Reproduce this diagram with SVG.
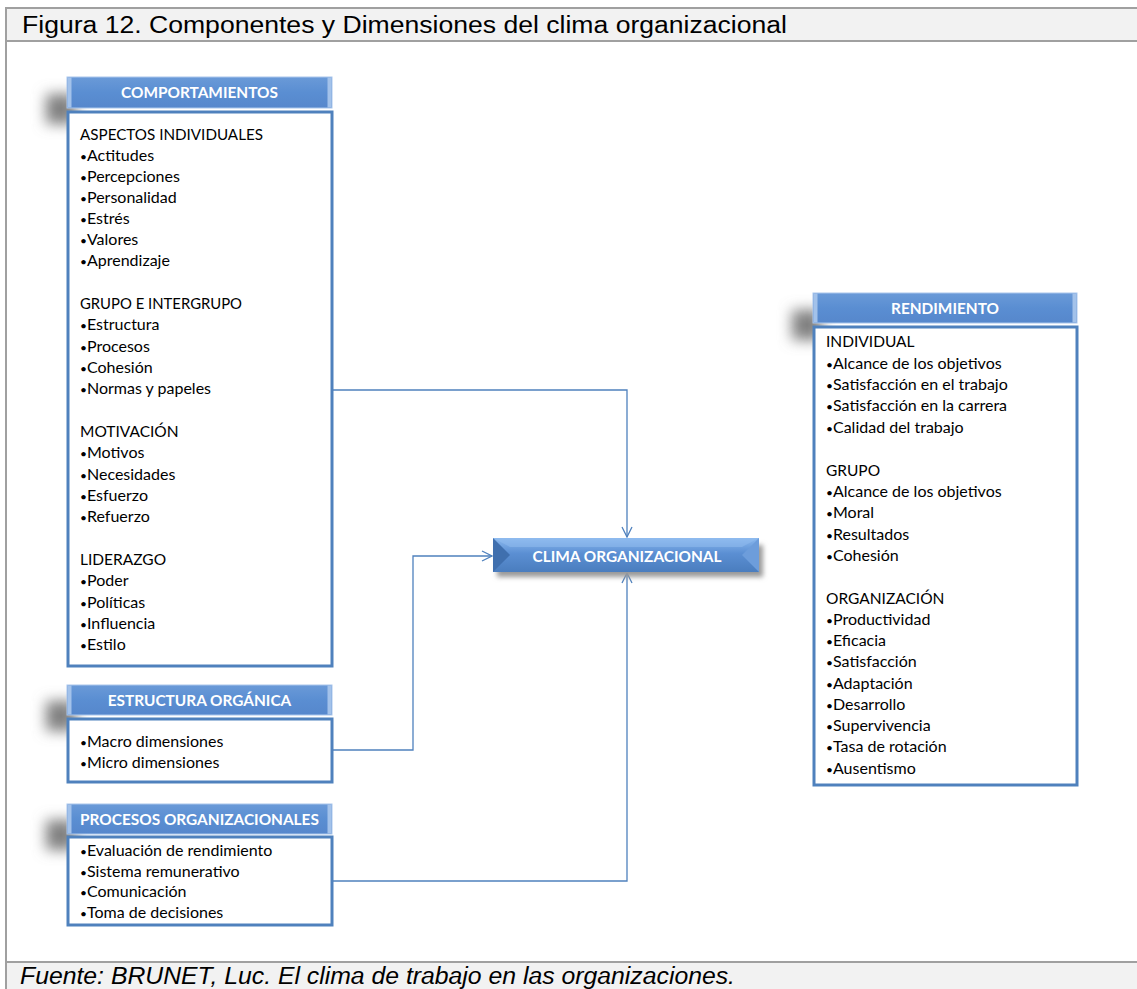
<svg xmlns="http://www.w3.org/2000/svg" width="1137" height="989" viewBox="0 0 1137 989">
  <style>
    .frame { fill: none; stroke: #a0a0a0; stroke-width: 2; }
    .bar { fill: #f2f2f2; }
    .title { font-family: "Liberation Sans", Arial, sans-serif; font-size: 23px; fill: #000; }
    .foot { font-family: "Liberation Sans", Arial, sans-serif; font-size: 23px; font-style: italic; fill: #000; }
    .hdr { fill: url(#hdrGrad); stroke: #a9c6ec; stroke-width: 1; }
    .edge { fill: #a3c2ea; }
    .hdrText { font-family: Lato, "Open Sans", sans-serif; font-weight: bold; font-size: 15.4px; fill: #fff; text-anchor: middle; }
    .body { fill: #fff; stroke: #4f81bd; stroke-width: 3; }
    .item { font-family: Lato, "Open Sans", sans-serif; font-size: 16px; fill: #000; }
    .cap { font-size: 15.5px; }
    .b { font-size: 12px; }
    .conn { fill: none; stroke: #4f81bd; stroke-width: 1.3; }
    .shadow { fill: #808080; filter: url(#blur); }
  </style>
  <defs>
    <linearGradient id="hdrGrad" x1="0" y1="0" x2="0" y2="1">
      <stop offset="0" stop-color="#6a9ad8"/>
      <stop offset="0.5" stop-color="#5a8ed2"/>
      <stop offset="1" stop-color="#5687cc"/>
    </linearGradient>
    <linearGradient id="climaGrad" x1="0" y1="0" x2="0" y2="1">
      <stop offset="0" stop-color="#8ab8ee"/>
      <stop offset="0.45" stop-color="#5b8fd3"/>
      <stop offset="1" stop-color="#4a7dbe"/>
    </linearGradient>
    <filter id="blur" x="-80%" y="-80%" width="260%" height="260%">
      <feGaussianBlur stdDeviation="7"/>
    </filter>
    <filter id="soft" x="-10%" y="-30%" width="120%" height="160%">
      <feGaussianBlur stdDeviation="2.5"/>
    </filter>
    <marker id="arrow" viewBox="0 0 12 12" refX="11" refY="6" markerWidth="12" markerHeight="12" markerUnits="userSpaceOnUse" orient="auto">
      <path d="M1,1 L11,6 L1,11" fill="none" stroke="#4f81bd" stroke-width="1.3"/>
    </marker>
  </defs>

  <!-- page frame with caption bars -->
  <rect class="bar" x="6" y="8" width="1140" height="33"/>
  <rect class="bar" x="6" y="962" width="1140" height="30"/>
  <path class="frame" d="M1145,8 H6 V992"/>
  <path class="frame" d="M6,41 H1145 M6,962 H1145"/>
  <text class="title" x="22" y="33" textLength="765" lengthAdjust="spacingAndGlyphs">Figura 12. Componentes y Dimensiones del clima organizacional</text>
  <text class="foot" x="20" y="984" textLength="715" lengthAdjust="spacingAndGlyphs">Fuente: BRUNET, Luc. El clima de trabajo en las organizaciones.</text>

  <!-- connectors -->
  <g id="connectors">
    <path class="conn" d="M333,390 H627 V537" marker-end="url(#arrow)"/>
    <path class="conn" d="M333,750 H413 V556 H492" marker-end="url(#arrow)"/>
    <path class="conn" d="M333,881 H627 V573" marker-end="url(#arrow)"/>
  </g>

  <!-- behaviours -->
  <g id="comportamientos">
    <rect class="shadow" x="46" y="94" width="30" height="30"/>
    <rect class="body" x="68" y="112" width="264" height="554"/>
    <rect class="hdr" x="67" y="77" width="265" height="31"/>
    <rect class="edge" x="67.5" y="77.5" width="4" height="30"/>
    <rect class="edge" x="327.5" y="77.5" width="4" height="30"/>
    <text class="hdrText" x="199.5" y="98">COMPORTAMIENTOS</text>
    <g class="item">
      <text class="cap" x="80" y="140" textLength="183" lengthAdjust="spacingAndGlyphs">ASPECTOS INDIVIDUALES</text>
      <text x="80" y="161"><tspan class="b">•</tspan>Actitudes</text>
      <text x="80" y="182"><tspan class="b">•</tspan>Percepciones</text>
      <text x="80" y="203"><tspan class="b">•</tspan>Personalidad</text>
      <text x="80" y="224"><tspan class="b">•</tspan>Estrés</text>
      <text x="80" y="245"><tspan class="b">•</tspan>Valores</text>
      <text x="80" y="266"><tspan class="b">•</tspan>Aprendizaje</text>
      <text class="cap" x="80" y="309" textLength="162" lengthAdjust="spacingAndGlyphs">GRUPO E INTERGRUPO</text>
      <text x="80" y="330"><tspan class="b">•</tspan>Estructura</text>
      <text x="80" y="352"><tspan class="b">•</tspan>Procesos</text>
      <text x="80" y="373"><tspan class="b">•</tspan>Cohesión</text>
      <text x="80" y="394"><tspan class="b">•</tspan>Normas y papeles</text>
      <text class="cap" x="80" y="437">MOTIVACIÓN</text>
      <text x="80" y="458"><tspan class="b">•</tspan>Motivos</text>
      <text x="80" y="480"><tspan class="b">•</tspan>Necesidades</text>
      <text x="80" y="501"><tspan class="b">•</tspan>Esfuerzo</text>
      <text x="80" y="522"><tspan class="b">•</tspan>Refuerzo</text>
      <text class="cap" x="80" y="565">LIDERAZGO</text>
      <text x="80" y="586"><tspan class="b">•</tspan>Poder</text>
      <text x="80" y="608"><tspan class="b">•</tspan>Políticas</text>
      <text x="80" y="629"><tspan class="b">•</tspan>Influencia</text>
      <text x="80" y="650"><tspan class="b">•</tspan>Estilo</text>
    </g>
  </g>

  <!-- organic structure -->
  <g id="estructura">
    <rect class="shadow" x="46" y="701" width="30" height="30"/>
    <rect class="body" x="68" y="719" width="264" height="63"/>
    <rect class="hdr" x="67" y="685" width="265" height="30"/>
    <rect class="edge" x="67.5" y="685.5" width="4" height="29"/>
    <rect class="edge" x="327.5" y="685.5" width="4" height="29"/>
    <text class="hdrText" x="199.5" y="705.5">ESTRUCTURA ORGÁNICA</text>
    <g class="item">
      <text x="80" y="747"><tspan class="b">•</tspan>Macro dimensiones</text>
      <text x="80" y="768"><tspan class="b">•</tspan>Micro dimensiones</text>
    </g>
  </g>

  <!-- organisational processes -->
  <g id="procesos">
    <rect class="shadow" x="46" y="820" width="30" height="30"/>
    <rect class="body" x="68" y="837" width="264" height="88"/>
    <rect class="hdr" x="67" y="804" width="265" height="30"/>
    <rect class="edge" x="67.5" y="804.5" width="4" height="29"/>
    <rect class="edge" x="327.5" y="804.5" width="4" height="29"/>
    <text class="hdrText" x="199.5" y="824.5">PROCESOS ORGANIZACIONALES</text>
    <g class="item">
      <text x="80" y="856"><tspan class="b">•</tspan>Evaluación de rendimiento</text>
      <text x="80" y="877"><tspan class="b">•</tspan>Sistema remunerativo</text>
      <text x="80" y="897"><tspan class="b">•</tspan>Comunicación</text>
      <text x="80" y="918"><tspan class="b">•</tspan>Toma de decisiones</text>
    </g>
  </g>

  <!-- organisational climate -->
  <g id="clima">
    <rect x="497" y="545" width="266" height="32" fill="#9a9a9a" filter="url(#soft)"/>
    <rect x="493" y="538" width="266" height="34" fill="url(#climaGrad)"/>
    <polygon points="493,538 510,555 493,572" fill="#3f6fae"/>
    <polygon points="759,538 742,555 759,572" fill="#6d9ddb"/>
    <polygon points="493,538 759,538 742,547 510,547" fill="#93bdf0" opacity="0.5"/>
    <text class="hdrText" x="627" y="562" font-size="16.5">CLIMA ORGANIZACIONAL</text>
  </g>

  <!-- performance -->
  <g id="rendimiento">
    <rect class="shadow" x="792" y="310" width="30" height="30"/>
    <rect class="body" x="814" y="327" width="263" height="458"/>
    <rect class="hdr" x="813" y="293" width="264" height="30"/>
    <rect class="edge" x="813.5" y="293.5" width="4" height="29"/>
    <rect class="edge" x="1072.5" y="293.5" width="4" height="29"/>
    <text class="hdrText" x="945" y="313.5">RENDIMIENTO</text>
    <g class="item">
      <text class="cap" x="826" y="347">INDIVIDUAL</text>
      <text x="826" y="369"><tspan class="b">•</tspan>Alcance de los objetivos</text>
      <text x="826" y="390"><tspan class="b">•</tspan>Satisfacción en el trabajo</text>
      <text x="826" y="411"><tspan class="b">•</tspan>Satisfacción en la carrera</text>
      <text x="826" y="433"><tspan class="b">•</tspan>Calidad del trabajo</text>
      <text class="cap" x="826" y="476">GRUPO</text>
      <text x="826" y="497"><tspan class="b">•</tspan>Alcance de los objetivos</text>
      <text x="826" y="518"><tspan class="b">•</tspan>Moral</text>
      <text x="826" y="540"><tspan class="b">•</tspan>Resultados</text>
      <text x="826" y="561"><tspan class="b">•</tspan>Cohesión</text>
      <text class="cap" x="826" y="604">ORGANIZACIÓN</text>
      <text x="826" y="625"><tspan class="b">•</tspan>Productividad</text>
      <text x="826" y="646"><tspan class="b">•</tspan>Eficacia</text>
      <text x="826" y="667"><tspan class="b">•</tspan>Satisfacción</text>
      <text x="826" y="689"><tspan class="b">•</tspan>Adaptación</text>
      <text x="826" y="710"><tspan class="b">•</tspan>Desarrollo</text>
      <text x="826" y="731"><tspan class="b">•</tspan>Supervivencia</text>
      <text x="826" y="752"><tspan class="b">•</tspan>Tasa de rotación</text>
      <text x="826" y="774"><tspan class="b">•</tspan>Ausentismo</text>
    </g>
  </g>
</svg>
